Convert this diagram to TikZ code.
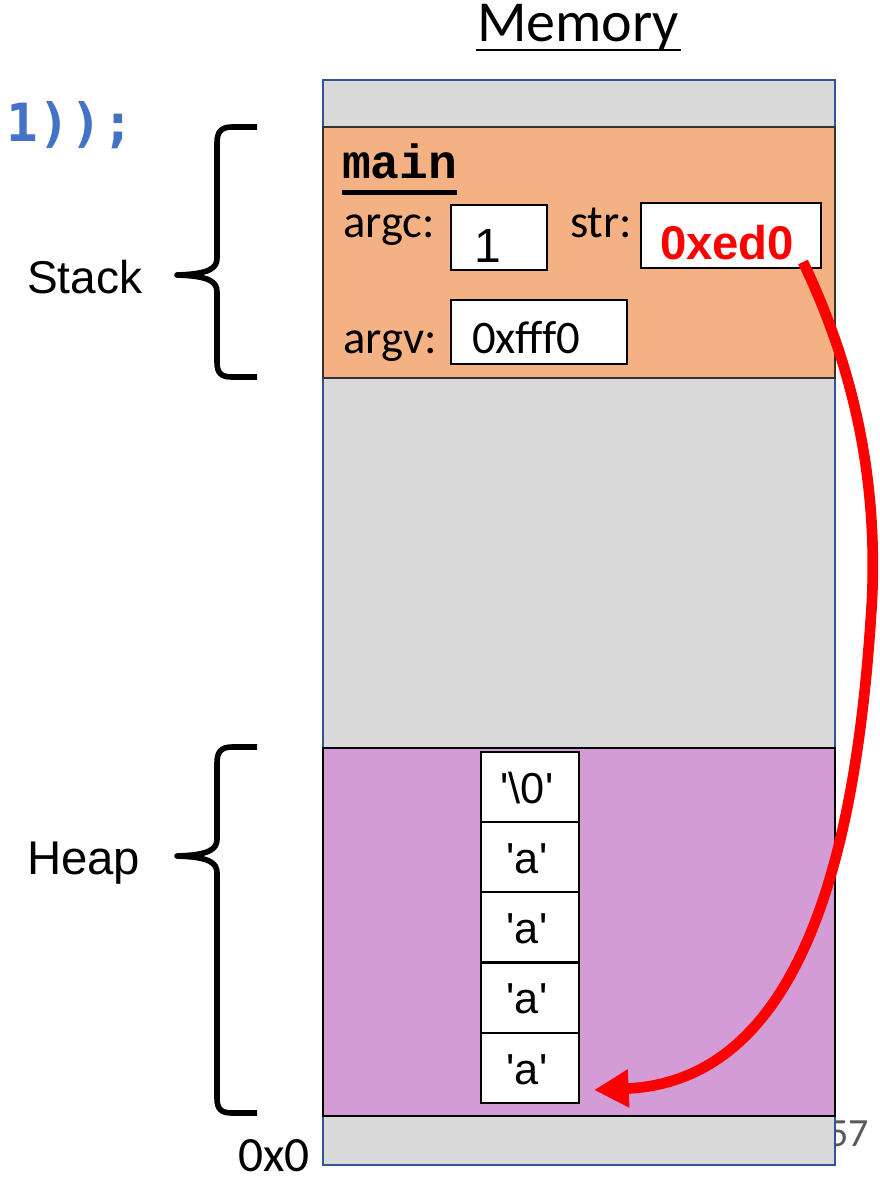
\documentclass[tikz,border=0pt]{standalone}
\usepackage{fontspec}
\setmainfont{Carlito}
\newfontfamily\arialf{Liberation Sans}
\newfontfamily\courf{Liberation Mono}
\newfontfamily\consf{DejaVu Sans Mono}
\usetikzlibrary{arrows.meta}
\definecolor{memgray}{RGB}{217,217,217}
\definecolor{memblue}{RGB}{47,85,151}
\definecolor{stackorange}{RGB}{244,177,131}
\definecolor{heappurple}{RGB}{212,156,214}
\definecolor{codeblue}{RGB}{68,114,196}
\definecolor{ptrred}{RGB}{255,0,0}
\definecolor{pagegray}{RGB}{89,89,89}
\tikzset{
  lbl/.style={anchor=base west, inner sep=0pt, outer sep=0pt},
  valbox/.style={draw=black, fill=white, line width=1.2pt, inner sep=0pt},
  cell/.style={draw=black, fill=white, line width=1.5pt, inner sep=0pt,
    minimum width=73.5pt, minimum height=52.5pt},
  celltext/.style={inner sep=0pt, font=\arialf\fontsize{32.5}{36}\selectfont},
  bracestyle/.style={line width=4.2pt, line cap=butt, line join=round},
  pointer/.style={draw=ptrred, line width=8pt,
    -{Triangle[length=26pt, width=27pt]}}
}
\begin{document}
\begin{tikzpicture}[x=0.75pt, y=-0.75pt]
\useasboundingbox (0,0) rectangle (879,1181);

% code fragment
\node[lbl, text=codeblue, font=\consf\bfseries\fontsize{39.5}{42}\selectfont] (code) at (7,142) {1));};

% page number (partly hidden behind memory)
\node[anchor=base east, inner sep=0pt, text=pagegray, font=\fontsize{30}{34}\selectfont] (pagenum) at (869,1146) {57};

% memory column
\draw[fill=memgray, draw=memblue, line width=1.5pt] (323,80) rectangle (835,1165);
\draw[fill=stackorange, draw=black!80, line width=1.2pt] (323,127) rectangle (835,378);
\draw[fill=heappurple, draw=black, line width=1.5pt] (323,748) rectangle (835,1116);

% title
\node[lbl, font=\fontsize{43.5}{48}\selectfont] (title) at (477,42) {Memory};
\draw[line width=2pt] (476,50) -- (681,50);

% stack frame contents
\node[lbl, font=\courf\bfseries\fontsize{36}{40}\selectfont] (mainlbl) at (342,178) {main};
\draw[line width=3.75pt] (342,192) -- (457,192);

\node[lbl, font=\fontsize{35}{40}\selectfont] (argclbl) at (343,237) {argc:};
\node[lbl, font=\fontsize{35}{40}\selectfont] (strlbl) at (570,237) {str:};
\node[lbl, font=\fontsize{35}{40}\selectfont] (argvlbl) at (343,353) {argv:};

\node[valbox, minimum width=72pt, minimum height=48.75pt] (argcbox) at (499,237.5) {};
\node[valbox, minimum width=135pt, minimum height=48.75pt] (strbox) at (731,235.5) {};
\node[valbox, minimum width=132pt, minimum height=48pt] (argvbox) at (539,332) {};

\node[lbl, font=\arialf\fontsize{36}{40}\selectfont] (argcval) at (474,262) {1};
\node[lbl, text=ptrred, font=\arialf\bfseries\fontsize{35.5}{38}\selectfont] (strval) at (660,259) {0xed0};
\node[lbl, font=\fontsize{35}{40}\selectfont] (argvval) at (472,353) {0xfff0};

% heap cells
\node[cell] (c0) at (530,787) {};
\node[cell] (c1) at (530,857) {};
\node[cell] (c2) at (530,927) {};
\node[cell] (c3) at (530,997.5) {};
\node[cell] (c4) at (530,1068) {};
\node[celltext, anchor=base] (t0) at (527,803) {\textquotesingle\textbackslash0\textquotesingle};
\node[celltext, anchor=base] (t1) at (527,873) {\textquotesingle a\textquotesingle};
\node[celltext, anchor=base] (t2) at (527,943) {\textquotesingle a\textquotesingle};
\node[celltext, anchor=base] (t3) at (527,1013.5) {\textquotesingle a\textquotesingle};
\node[celltext, anchor=base] (t4) at (527,1084) {\textquotesingle a\textquotesingle};

% braces
\draw[bracestyle] (257,127) -- (232,127) .. controls (221,127) and (217,132) .. (217,143)
  -- (217,258) .. controls (217,268) and (210,274) .. (177,275)
  .. controls (210,276) and (217,282) .. (217,292)
  -- (217,362) .. controls (217,373) and (221,377) .. (232,377) -- (257,377);
\draw[bracestyle] (257,747) -- (232,747) .. controls (221,747) and (217,752) .. (217,763)
  -- (217,839) .. controls (217,849) and (210,855) .. (177,856)
  .. controls (210,857) and (217,863) .. (217,873)
  -- (217,1098) .. controls (217,1109) and (221,1113) .. (232,1113) -- (257,1113);

\node[lbl, font=\arialf\fontsize{34.5}{40}\selectfont] (stacklbl) at (27,293) {Stack};
\node[lbl, font=\arialf\fontsize{35.5}{40}\selectfont] (heaplbl) at (27,874) {Heap};

% address
\node[lbl, font=\fontsize{37}{40}\selectfont] (addr) at (238,1171) {0x0};

% pointer arrow
\coordinate (ptrstart) at (803,262);
\coordinate (ptrtip) at (594,1090);
\draw[pointer] (ptrstart) .. controls (850,360) and (878,470) .. (872,600)
  .. controls (860,800) and (820,1080) .. (ptrtip);
\end{tikzpicture}
\end{document}
